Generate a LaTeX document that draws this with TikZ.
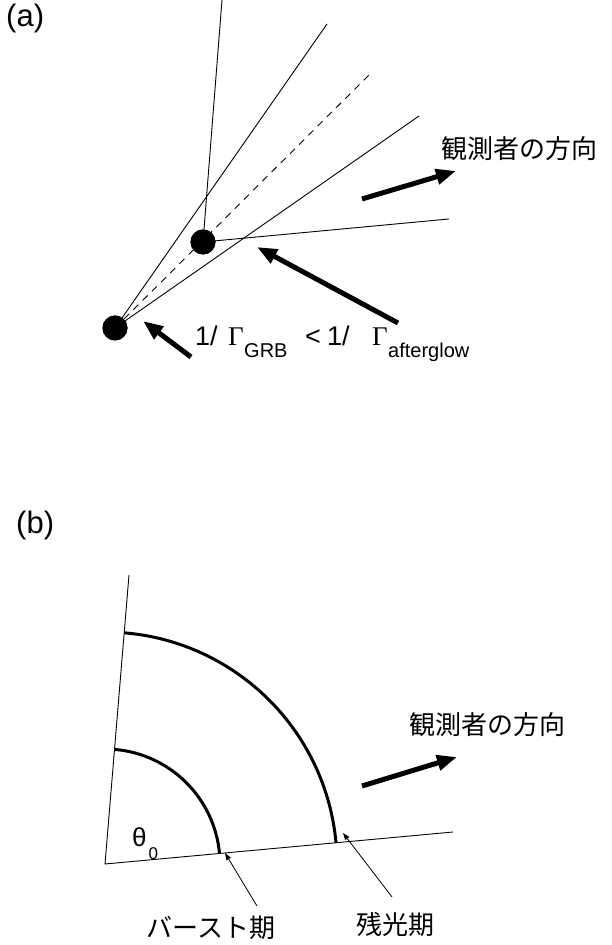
\documentclass[tikz,border=0pt]{standalone}
\usepackage{fontspec}
\setmainfont{Liberation Sans}
\newfontfamily\cjkfont{Noto Sans CJK JP}
\newfontfamily\grkserif{Liberation Serif}
\usetikzlibrary{arrows.meta}
\tikzset{
  ray/.style={line width=0.9pt},
  dashray/.style={line width=0.9pt, dash pattern=on 7pt off 6pt},
  bigarrow/.style={line width=5pt, -{Triangle[length=20pt,width=15pt]}},
  smallarrow/.style={line width=0.8pt, -{Triangle[length=7pt,width=5pt]}},
  blob/.style={circle, fill=black, minimum size=25pt, inner sep=0pt},
  shell/.style={line width=3pt},
  panellab/.style={inner sep=0pt, anchor=base west, font=\fontsize{31}{34}\selectfont},
  mainlab/.style={inner sep=0pt, anchor=base west, font=\fontsize{27}{30}\selectfont},
  sublab/.style={inner sep=0pt, anchor=base west, font=\fontsize{20}{24}\selectfont},
  cjklab/.style={inner sep=0pt, font=\cjkfont\fontsize{26}{30}\selectfont},
}
\begin{document}
\begin{tikzpicture}[x=1pt,y=1pt]
\useasboundingbox (0,0) rectangle (612,945);

% ---------------- panel (a) ----------------
\node[panellab] (labA) at (6,918.5) {(a)};

\node[blob] (dotA) at (115,617) {};
\node[blob] (dotB) at (203,703) {};

\coordinate (rayUp) at (327,921);
\coordinate (rayLow) at (419,829);
\coordinate (rayMid) at (371,872);
\coordinate (rayTop) at (222,945);
\coordinate (rayRight) at (449,726);

\draw[ray] (dotA.center) -- (rayUp);
\draw[ray] (dotA.center) -- (rayLow);
\draw[dashray] (dotA.center) -- (rayMid);
\draw[ray] (dotB.center) -- (rayTop);
\draw[ray] (dotB.center) -- (rayRight);
\node[blob] at (dotA) {};
\node[blob] at (dotB) {};

\coordinate (obsAtail) at (362,746);
\coordinate (obsAtip) at (456,774);
\draw[bigarrow] (obsAtail) -- (obsAtip);
\node[cjklab] (obsAtext) at (519,796) {観測者の方向};

\coordinate (grbTail) at (191,588);
\coordinate (grbTip) at (143,624);
\draw[bigarrow] (grbTail) -- (grbTip);
\coordinate (agTail) at (398,622);
\coordinate (agTip) at (257,698);
\draw[bigarrow] (agTail) -- (agTip);

\node[mainlab] (one1) at (195,599) {1/};
\node[mainlab, font=\grkserif\fontsize{27}{30}\selectfont] (gam1) at (228,599) {Γ};
\node[sublab] (sub1) at (244,587) {GRB};
\node[mainlab] (lt) at (305,599) {<};
\node[mainlab] (one2) at (327,599) {1/};
\node[mainlab, font=\grkserif\fontsize{27}{30}\selectfont] (gam2) at (372,599) {Γ};
\node[sublab] (sub2) at (388,587) {afterglow};

% ---------------- panel (b) ----------------
\node[panellab] (labB) at (16,411.5) {(b)};

\coordinate (O) at (105,81);
\coordinate (edgeL) at (129,370);
\coordinate (edgeR) at (453,113);
\draw[ray] (edgeL) -- (O) -- (edgeR);

\draw[shell] ([shift={(5.3:115)}]O) arc[start angle=5.3, end angle=85.2, radius=115];
\draw[shell] ([shift={(5.3:232)}]O) arc[start angle=5.3, end angle=85.2, radius=232];

\coordinate (burstTail) at (257,39);
\coordinate (burstTip) at (225,92);
\draw[smallarrow] (burstTail) -- (burstTip);
\coordinate (aftTail) at (392,48);
\coordinate (aftTip) at (343,112);
\draw[smallarrow] (aftTail) -- (aftTip);

\coordinate (obsBtail) at (362,159);
\coordinate (obsBtip) at (457,188);
\draw[bigarrow] (obsBtail) -- (obsBtip);
\node[cjklab] (obsBtext) at (487,220) {観測者の方向};

\node[mainlab, font=\fontsize{26}{30}\selectfont] (theta) at (132,98) {θ};
\node[sublab, font=\fontsize{17}{20}\selectfont] (thetasub) at (148.5,85) {0};

\node[cjklab] (burstText) at (211,17) {バースト期};
\node[cjklab] (aftText) at (395,20) {残光期};
\end{tikzpicture}
\end{document}
